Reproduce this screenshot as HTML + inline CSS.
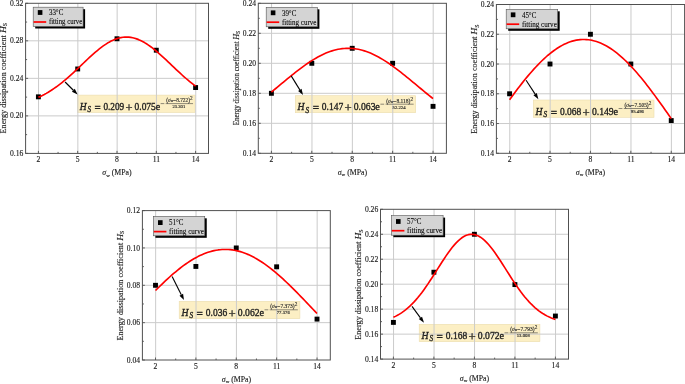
<!DOCTYPE html>
<html><head><meta charset="utf-8"><style>
html,body{margin:0;padding:0;background:#fff;width:685px;height:384px;overflow:hidden}
svg{display:block;will-change:transform}
svg text{stroke:#222;stroke-width:0.14px}
</style></head><body>
<svg width="685" height="384" viewBox="0 0 685 384">
<rect width="685" height="384" fill="#fff"/>
<rect x="77.5" y="95.1" width="117.6" height="17.4" fill="#fcefc4" stroke="#ecdcae" stroke-width="0.6"/>
<path d="M38.55 3.3V153.4M77.85 3.3V153.4M117.15 3.3V153.4M156.45 3.3V153.4M195.75 3.3V153.4M25.6 115.88H208.5M25.6 78.35H208.5M25.6 40.82H208.5" stroke="#cbcbcb" stroke-width="1.0" fill="none"/>
<path d="M38.4 153.4v-2.5M77.7 153.4v-2.5M117 153.4v-2.5M156.3 153.4v-2.5M195.6 153.4v-2.5M58.05 153.4v-1.5M97.35 153.4v-1.5M136.65 153.4v-1.5M175.95 153.4v-1.5M25.6 153.4h2.5M25.6 134.64h1.5M25.6 115.88h2.5M25.6 97.11h1.5M25.6 78.35h2.5M25.6 59.59h1.5M25.6 40.82h2.5M25.6 22.06h1.5M25.6 3.3h2.5" stroke="#505050" stroke-width="0.9" fill="none"/>
<text x="79.64" y="109.7" font-family="'Liberation Serif', serif" font-size="10.4" fill="#1a1a1a" style="stroke-width:0.34px" font-style="italic" textLength="6.82" lengthAdjust="spacingAndGlyphs">H</text>
<text x="87.44" y="112.1" font-family="'Liberation Serif', serif" font-size="7.2" fill="#1a1a1a" style="stroke-width:0.34px" font-style="italic" textLength="3.51" lengthAdjust="spacingAndGlyphs">S</text>
<text x="94.45" y="110.8" font-family="'Liberation Serif', serif" font-size="10.4" fill="#1a1a1a" style="stroke-width:0.34px" textLength="6.24" lengthAdjust="spacingAndGlyphs">=</text>
<text x="103.42" y="109.7" font-family="'Liberation Serif', serif" font-size="10.4" fill="#1a1a1a" style="stroke-width:0.34px" textLength="20.85" lengthAdjust="spacingAndGlyphs">0.209</text>
<text x="125.44" y="111.6" font-family="'Liberation Serif', serif" font-size="13" fill="#1a1a1a" style="stroke-width:0.34px" textLength="7.02" lengthAdjust="spacingAndGlyphs">+</text>
<text x="134.59" y="109.7" font-family="'Liberation Serif', serif" font-size="10.4" fill="#1a1a1a" style="stroke-width:0.34px" textLength="21.24" lengthAdjust="spacingAndGlyphs">0.075</text>
<text x="155.64" y="109.7" font-family="'Liberation Serif', serif" font-size="10.4" fill="#1a1a1a" style="stroke-width:0.34px" textLength="4.48" lengthAdjust="spacingAndGlyphs">e</text>
<path d="M160.61 103.6H164.31M165.68 103.6H193.05" stroke="#333" stroke-width="0.55"/>
<text x="166.26" y="102" font-family="'Liberation Serif', serif" font-size="5.2" fill="#333" textLength="23.68" lengthAdjust="spacingAndGlyphs">(<tspan font-style="italic">σ</tspan><tspan font-size="3.4">w</tspan>−8.722)</text>
<text x="190.03" y="99.9" font-family="'Liberation Serif', serif" font-size="5.2" fill="#333">2</text>
<text x="172.5" y="108" font-family="'Liberation Serif', serif" font-size="4.4" fill="#333" textLength="12.76" lengthAdjust="spacingAndGlyphs">23.301</text>
<rect x="35.95" y="94.38" width="4.9" height="4.9" fill="#000"/>
<rect x="75.25" y="66.52" width="4.9" height="4.9" fill="#000"/>
<rect x="114.55" y="36.31" width="4.9" height="4.9" fill="#000"/>
<rect x="153.85" y="47.76" width="4.9" height="4.9" fill="#000"/>
<rect x="193.15" y="85.09" width="4.9" height="4.9" fill="#000"/>
<polyline points="38.4,97.31 40.36,96.41 42.33,95.45 44.3,94.43 46.26,93.35 48.22,92.21 50.19,91 52.15,89.74 54.12,88.42 56.09,87.04 58.05,85.6 60.02,84.11 61.98,82.56 63.95,80.95 65.91,79.3 67.88,77.61 69.84,75.87 71.8,74.1 73.77,72.29 75.73,70.46 77.7,68.61 79.66,66.74 81.63,64.87 83.59,62.99 85.56,61.12 87.53,59.27 89.49,57.44 91.45,55.64 93.42,53.88 95.38,52.17 97.35,50.51 99.31,48.91 101.28,47.39 103.25,45.94 105.21,44.58 107.17,43.32 109.14,42.16 111.1,41.1 113.07,40.16 115.03,39.33 117,38.63 118.97,38.05 120.93,37.61 122.89,37.3 124.86,37.12 126.82,37.07 128.79,37.17 130.75,37.4 132.72,37.76 134.69,38.25 136.65,38.88 138.62,39.63 140.58,40.5 142.54,41.48 144.51,42.58 146.47,43.78 148.44,45.08 150.41,46.47 152.37,47.95 154.33,49.5 156.3,51.12 158.26,52.8 160.23,54.53 162.19,56.31 164.16,58.12 166.12,59.96 168.09,61.82 170.06,63.69 172.02,65.57 173.98,67.44 175.95,69.3 177.92,71.15 179.88,72.97 181.84,74.76 183.81,76.52 185.78,78.25 187.74,79.92 189.71,81.56 191.67,83.14 193.63,84.67 195.6,86.15" fill="none" stroke="#ff0000" stroke-width="1.65" stroke-linejoin="round"/>
<path d="M65.1 82L73.36 90.26" stroke="#000" stroke-width="1.1"/>
<path d="M77.6 94.5L71.94 91.67L74.77 88.84Z" fill="#000"/>
<rect x="35.2" y="9.2" width="49.9" height="19.3" fill="#000"/>
<rect x="33.2" y="7.2" width="49.9" height="19.3" fill="#d4d4d4" stroke="#555" stroke-width="0.6"/>
<rect x="37.8" y="10.1" width="4.6" height="4.8" fill="#000"/>
<path d="M33.6 22h12.6" stroke="#ff0000" stroke-width="1.7"/>
<text x="48.9" y="15.2" font-family="'Liberation Serif', serif" font-size="8.6" fill="#000" style="stroke-width:0.1px" textLength="14.4" lengthAdjust="spacingAndGlyphs">33°C</text>
<text x="48.9" y="24.3" font-family="'Liberation Serif', serif" font-size="8.6" fill="#000" style="stroke-width:0.1px" textLength="33.3" lengthAdjust="spacingAndGlyphs">fitting curve</text>
<rect x="25.6" y="3.3" width="182.9" height="150.1" fill="none" stroke="#505050" stroke-width="1.0"/>
<text x="38.4" y="162.4" font-family="'Liberation Serif', serif" font-size="7.6" fill="#222" text-anchor="middle">2</text>
<text x="77.7" y="162.4" font-family="'Liberation Serif', serif" font-size="7.6" fill="#222" text-anchor="middle">5</text>
<text x="117" y="162.4" font-family="'Liberation Serif', serif" font-size="7.6" fill="#222" text-anchor="middle">8</text>
<text x="156.3" y="162.4" font-family="'Liberation Serif', serif" font-size="7.6" fill="#222" text-anchor="middle">11</text>
<text x="195.6" y="162.4" font-family="'Liberation Serif', serif" font-size="7.6" fill="#222" text-anchor="middle">14</text>
<text x="23.3" y="156" font-family="'Liberation Serif', serif" font-size="7.6" fill="#222" text-anchor="end">0.16</text>
<text x="23.3" y="118.47" font-family="'Liberation Serif', serif" font-size="7.6" fill="#222" text-anchor="end">0.20</text>
<text x="23.3" y="80.95" font-family="'Liberation Serif', serif" font-size="7.6" fill="#222" text-anchor="end">0.24</text>
<text x="23.3" y="43.42" font-family="'Liberation Serif', serif" font-size="7.6" fill="#222" text-anchor="end">0.28</text>
<text x="23.3" y="5.9" font-family="'Liberation Serif', serif" font-size="7.6" fill="#222" text-anchor="end">0.32</text>
<text x="117" y="175" font-family="'Liberation Serif', serif" font-size="7.8" fill="#222" text-anchor="middle"><tspan font-style="italic">σ</tspan><tspan font-size="5" dy="1.5">w</tspan><tspan dy="-1.5"> (MPa)</tspan></text>
<text transform="translate(5.8 133.4) rotate(-90)" font-family="'Liberation Serif', serif" font-size="8.0" fill="#222" x="0" y="0" textLength="110.4" lengthAdjust="spacingAndGlyphs">Energy dissipation coefficient <tspan font-style="italic" font-size="9.2">H</tspan><tspan font-size="5.76" dy="1.36">S</tspan></text>
<rect x="295.3" y="95.7" width="120.4" height="17" fill="#fcefc4" stroke="#ecdcae" stroke-width="0.6"/>
<path d="M271.55 3.3V153.3M311.96 3.3V153.3M352.37 3.3V153.3M392.78 3.3V153.3M433.19 3.3V153.3M258.3 123.3H446.4M258.3 93.3H446.4M258.3 63.3H446.4M258.3 33.3H446.4" stroke="#cbcbcb" stroke-width="1.0" fill="none"/>
<path d="M271.4 153.3v-2.5M311.81 153.3v-2.5M352.22 153.3v-2.5M392.63 153.3v-2.5M433.04 153.3v-2.5M291.6 153.3v-1.5M332.01 153.3v-1.5M372.42 153.3v-1.5M412.83 153.3v-1.5M258.3 153.3h2.5M258.3 138.3h1.5M258.3 123.3h2.5M258.3 108.3h1.5M258.3 93.3h2.5M258.3 78.3h1.5M258.3 63.3h2.5M258.3 48.3h1.5M258.3 33.3h2.5M258.3 18.3h1.5M258.3 3.3h2.5" stroke="#505050" stroke-width="0.9" fill="none"/>
<text x="297.49" y="110.3" font-family="'Liberation Serif', serif" font-size="10.4" fill="#1a1a1a" style="stroke-width:0.34px" font-style="italic" textLength="6.98" lengthAdjust="spacingAndGlyphs">H</text>
<text x="305.47" y="112.7" font-family="'Liberation Serif', serif" font-size="7.2" fill="#1a1a1a" style="stroke-width:0.34px" font-style="italic" textLength="3.59" lengthAdjust="spacingAndGlyphs">S</text>
<text x="312.66" y="111.4" font-family="'Liberation Serif', serif" font-size="10.4" fill="#1a1a1a" style="stroke-width:0.34px" textLength="6.38" lengthAdjust="spacingAndGlyphs">=</text>
<text x="321.83" y="110.3" font-family="'Liberation Serif', serif" font-size="10.4" fill="#1a1a1a" style="stroke-width:0.34px" textLength="21.35" lengthAdjust="spacingAndGlyphs">0.147</text>
<text x="344.38" y="112.2" font-family="'Liberation Serif', serif" font-size="13" fill="#1a1a1a" style="stroke-width:0.34px" textLength="7.18" lengthAdjust="spacingAndGlyphs">+</text>
<text x="353.75" y="110.3" font-family="'Liberation Serif', serif" font-size="10.4" fill="#1a1a1a" style="stroke-width:0.34px" textLength="21.75" lengthAdjust="spacingAndGlyphs">0.063</text>
<text x="375.3" y="110.3" font-family="'Liberation Serif', serif" font-size="10.4" fill="#1a1a1a" style="stroke-width:0.34px" textLength="4.59" lengthAdjust="spacingAndGlyphs">e</text>
<path d="M380.39 104.2H384.18M385.58 104.2H413.61" stroke="#333" stroke-width="0.55"/>
<text x="386.17" y="102.6" font-family="'Liberation Serif', serif" font-size="5.2" fill="#333" textLength="24.24" lengthAdjust="spacingAndGlyphs">(<tspan font-style="italic">σ</tspan><tspan font-size="3.4">w</tspan>−8.118)</text>
<text x="410.51" y="100.5" font-family="'Liberation Serif', serif" font-size="5.2" fill="#333">2</text>
<text x="392.56" y="108.6" font-family="'Liberation Serif', serif" font-size="4.4" fill="#333" textLength="13.07" lengthAdjust="spacingAndGlyphs">52.224</text>
<rect x="268.95" y="90.85" width="4.9" height="4.9" fill="#000"/>
<rect x="309.36" y="60.85" width="4.9" height="4.9" fill="#000"/>
<rect x="349.77" y="45.85" width="4.9" height="4.9" fill="#000"/>
<rect x="390.18" y="60.85" width="4.9" height="4.9" fill="#000"/>
<rect x="430.59" y="103.9" width="4.9" height="4.9" fill="#000"/>
<polyline points="271.4,92.09 273.42,90.42 275.44,88.75 277.46,87.07 279.48,85.38 281.5,83.7 283.52,82.02 285.54,80.35 287.56,78.69 289.58,77.03 291.6,75.4 293.63,73.78 295.65,72.19 297.67,70.62 299.69,69.08 301.71,67.57 303.73,66.09 305.75,64.66 307.77,63.27 309.79,61.92 311.81,60.62 313.83,59.37 315.85,58.17 317.87,57.03 319.89,55.96 321.91,54.94 323.93,53.99 325.95,53.1 327.97,52.29 329.99,51.54 332.01,50.87 334.04,50.27 336.06,49.76 338.08,49.31 340.1,48.95 342.12,48.67 344.14,48.46 346.16,48.34 348.18,48.3 350.2,48.34 352.22,48.46 354.24,48.67 356.26,48.95 358.28,49.31 360.3,49.76 362.32,50.27 364.34,50.87 366.36,51.54 368.38,52.29 370.4,53.1 372.42,53.99 374.45,54.94 376.47,55.96 378.49,57.03 380.51,58.17 382.53,59.37 384.55,60.62 386.57,61.92 388.59,63.27 390.61,64.66 392.63,66.09 394.65,67.57 396.67,69.08 398.69,70.62 400.71,72.19 402.73,73.78 404.75,75.4 406.77,77.03 408.79,78.69 410.81,80.35 412.83,82.02 414.86,83.7 416.88,85.38 418.9,87.07 420.92,88.75 422.94,90.42 424.96,92.09 426.98,93.74 429,95.38 431.02,97.01 433.04,98.62" fill="none" stroke="#ff0000" stroke-width="1.65" stroke-linejoin="round"/>
<path d="M291.2 75.9L299.85 89.9" stroke="#000" stroke-width="1.1"/>
<path d="M303 95L298.14 90.95L301.55 88.84Z" fill="#000"/>
<rect x="268.2" y="9.3" width="51.2" height="19.5" fill="#000"/>
<rect x="266.2" y="7.3" width="51.2" height="19.5" fill="#d4d4d4" stroke="#555" stroke-width="0.6"/>
<rect x="270.8" y="10.4" width="4.6" height="4.8" fill="#000"/>
<path d="M266.6 22.2h12.6" stroke="#ff0000" stroke-width="1.7"/>
<text x="281.9" y="15.5" font-family="'Liberation Serif', serif" font-size="8.6" fill="#000" style="stroke-width:0.1px" textLength="14.4" lengthAdjust="spacingAndGlyphs">39°C</text>
<text x="281.9" y="24.9" font-family="'Liberation Serif', serif" font-size="8.6" fill="#000" style="stroke-width:0.1px" textLength="34.6" lengthAdjust="spacingAndGlyphs">fitting curve</text>
<rect x="258.3" y="3.3" width="188.1" height="150" fill="none" stroke="#505050" stroke-width="1.0"/>
<text x="271.4" y="162.3" font-family="'Liberation Serif', serif" font-size="7.6" fill="#222" text-anchor="middle">2</text>
<text x="311.81" y="162.3" font-family="'Liberation Serif', serif" font-size="7.6" fill="#222" text-anchor="middle">5</text>
<text x="352.22" y="162.3" font-family="'Liberation Serif', serif" font-size="7.6" fill="#222" text-anchor="middle">8</text>
<text x="392.63" y="162.3" font-family="'Liberation Serif', serif" font-size="7.6" fill="#222" text-anchor="middle">11</text>
<text x="433.04" y="162.3" font-family="'Liberation Serif', serif" font-size="7.6" fill="#222" text-anchor="middle">14</text>
<text x="256" y="155.9" font-family="'Liberation Serif', serif" font-size="7.6" fill="#222" text-anchor="end">0.14</text>
<text x="256" y="125.9" font-family="'Liberation Serif', serif" font-size="7.6" fill="#222" text-anchor="end">0.16</text>
<text x="256" y="95.9" font-family="'Liberation Serif', serif" font-size="7.6" fill="#222" text-anchor="end">0.18</text>
<text x="256" y="65.9" font-family="'Liberation Serif', serif" font-size="7.6" fill="#222" text-anchor="end">0.20</text>
<text x="256" y="35.9" font-family="'Liberation Serif', serif" font-size="7.6" fill="#222" text-anchor="end">0.22</text>
<text x="256" y="5.9" font-family="'Liberation Serif', serif" font-size="7.6" fill="#222" text-anchor="end">0.24</text>
<text x="352.4" y="174.9" font-family="'Liberation Serif', serif" font-size="7.8" fill="#222" text-anchor="middle"><tspan font-style="italic">σ</tspan><tspan font-size="5" dy="1.5">w</tspan><tspan dy="-1.5"> (MPa)</tspan></text>
<text transform="translate(239 125.3) rotate(-90)" font-family="'Liberation Serif', serif" font-size="7.6" fill="#222" x="0" y="0" textLength="94.3" lengthAdjust="spacingAndGlyphs">Energy dissipation coefficient <tspan font-style="italic" font-size="8.74">H</tspan><tspan font-size="5.47" dy="1.29">S</tspan></text>
<rect x="533.3" y="100" width="120.7" height="17.3" fill="#fcefc4" stroke="#ecdcae" stroke-width="0.6"/>
<path d="M509.75 4.5V153.3M550.16 4.5V153.3M590.57 4.5V153.3M630.98 4.5V153.3M671.39 4.5V153.3M496.4 123.54H684.6M496.4 93.78H684.6M496.4 64.02H684.6M496.4 34.26H684.6" stroke="#cbcbcb" stroke-width="1.0" fill="none"/>
<path d="M509.6 153.3v-2.5M550.01 153.3v-2.5M590.42 153.3v-2.5M630.83 153.3v-2.5M671.24 153.3v-2.5M529.81 153.3v-1.5M570.22 153.3v-1.5M610.62 153.3v-1.5M651.04 153.3v-1.5M496.4 153.3h2.5M496.4 138.42h1.5M496.4 123.54h2.5M496.4 108.66h1.5M496.4 93.78h2.5M496.4 78.9h1.5M496.4 64.02h2.5M496.4 49.14h1.5M496.4 34.26h2.5M496.4 19.38h1.5M496.4 4.5h2.5" stroke="#505050" stroke-width="0.9" fill="none"/>
<text x="535.5" y="114.6" font-family="'Liberation Serif', serif" font-size="10.4" fill="#1a1a1a" style="stroke-width:0.34px" font-style="italic" textLength="7" lengthAdjust="spacingAndGlyphs">H</text>
<text x="543.5" y="117" font-family="'Liberation Serif', serif" font-size="7.2" fill="#1a1a1a" style="stroke-width:0.34px" font-style="italic" textLength="3.6" lengthAdjust="spacingAndGlyphs">S</text>
<text x="550.7" y="115.7" font-family="'Liberation Serif', serif" font-size="10.4" fill="#1a1a1a" style="stroke-width:0.34px" textLength="6.4" lengthAdjust="spacingAndGlyphs">=</text>
<text x="559.9" y="114.6" font-family="'Liberation Serif', serif" font-size="10.4" fill="#1a1a1a" style="stroke-width:0.34px" textLength="21.4" lengthAdjust="spacingAndGlyphs">0.068</text>
<text x="582.5" y="116.5" font-family="'Liberation Serif', serif" font-size="13" fill="#1a1a1a" style="stroke-width:0.34px" textLength="7.2" lengthAdjust="spacingAndGlyphs">+</text>
<text x="591.9" y="114.6" font-family="'Liberation Serif', serif" font-size="10.4" fill="#1a1a1a" style="stroke-width:0.34px" textLength="21.8" lengthAdjust="spacingAndGlyphs">0.149</text>
<text x="613.5" y="114.6" font-family="'Liberation Serif', serif" font-size="10.4" fill="#1a1a1a" style="stroke-width:0.34px" textLength="4.6" lengthAdjust="spacingAndGlyphs">e</text>
<path d="M618.6 108.5H622.4M623.8 108.5H651.9" stroke="#333" stroke-width="0.55"/>
<text x="624.4" y="106.9" font-family="'Liberation Serif', serif" font-size="5.2" fill="#333" textLength="24.3" lengthAdjust="spacingAndGlyphs">(<tspan font-style="italic">σ</tspan><tspan font-size="3.4">w</tspan>−7.505)</text>
<text x="648.8" y="104.8" font-family="'Liberation Serif', serif" font-size="5.2" fill="#333">2</text>
<text x="630.8" y="112.9" font-family="'Liberation Serif', serif" font-size="4.4" fill="#333" textLength="13.1" lengthAdjust="spacingAndGlyphs">95.496</text>
<rect x="507.15" y="91.33" width="4.9" height="4.9" fill="#000"/>
<rect x="547.56" y="61.57" width="4.9" height="4.9" fill="#000"/>
<rect x="587.97" y="31.81" width="4.9" height="4.9" fill="#000"/>
<rect x="628.38" y="61.57" width="4.9" height="4.9" fill="#000"/>
<rect x="668.79" y="118.11" width="4.9" height="4.9" fill="#000"/>
<polyline points="509.6,99.76 511.62,96.98 513.64,94.23 515.66,91.52 517.68,88.84 519.7,86.21 521.72,83.62 523.74,81.07 525.76,78.58 527.78,76.14 529.81,73.75 531.83,71.42 533.85,69.15 535.87,66.95 537.89,64.82 539.91,62.75 541.93,60.76 543.95,58.84 545.97,57 547.99,55.24 550.01,53.57 552.03,51.98 554.05,50.47 556.07,49.06 558.09,47.74 560.11,46.5 562.13,45.37 564.15,44.33 566.17,43.39 568.19,42.54 570.22,41.8 572.24,41.16 574.26,40.62 576.28,40.18 578.3,39.85 580.32,39.62 582.34,39.49 584.36,39.47 586.38,39.56 588.4,39.74 590.42,40.04 592.44,40.43 594.46,40.93 596.48,41.53 598.5,42.23 600.52,43.04 602.54,43.94 604.56,44.94 606.58,46.04 608.6,47.23 610.62,48.52 612.65,49.9 614.67,51.37 616.69,52.92 618.71,54.56 620.73,56.29 622.75,58.1 624.77,59.98 626.79,61.95 628.81,63.98 630.83,66.09 632.85,68.26 634.87,70.51 636.89,72.81 638.91,75.17 640.93,77.59 642.95,80.07 644.97,82.59 646.99,85.17 649.01,87.79 651.04,90.45 653.06,93.14 655.08,95.88 657.1,98.64 659.12,101.44 661.14,104.26 663.16,107.1 665.18,109.96 667.2,112.84 669.22,115.73 671.24,118.64" fill="none" stroke="#ff0000" stroke-width="1.65" stroke-linejoin="round"/>
<path d="M526.1 80.3L535.13 94.17" stroke="#000" stroke-width="1.1"/>
<path d="M538.4 99.2L533.45 95.26L536.8 93.08Z" fill="#000"/>
<rect x="508.2" y="11.3" width="51.5" height="19.5" fill="#000"/>
<rect x="506.2" y="9.3" width="51.5" height="19.5" fill="#d4d4d4" stroke="#555" stroke-width="0.6"/>
<rect x="510.8" y="12.4" width="4.6" height="4.8" fill="#000"/>
<path d="M506.6 24.2h12.6" stroke="#ff0000" stroke-width="1.7"/>
<text x="521.9" y="17.5" font-family="'Liberation Serif', serif" font-size="8.6" fill="#000" style="stroke-width:0.1px" textLength="14.4" lengthAdjust="spacingAndGlyphs">45°C</text>
<text x="521.9" y="26.9" font-family="'Liberation Serif', serif" font-size="8.6" fill="#000" style="stroke-width:0.1px" textLength="34.9" lengthAdjust="spacingAndGlyphs">fitting curve</text>
<rect x="496.4" y="4.5" width="188.2" height="148.8" fill="none" stroke="#505050" stroke-width="1.0"/>
<text x="509.6" y="162.3" font-family="'Liberation Serif', serif" font-size="7.6" fill="#222" text-anchor="middle">2</text>
<text x="550.01" y="162.3" font-family="'Liberation Serif', serif" font-size="7.6" fill="#222" text-anchor="middle">5</text>
<text x="590.42" y="162.3" font-family="'Liberation Serif', serif" font-size="7.6" fill="#222" text-anchor="middle">8</text>
<text x="630.83" y="162.3" font-family="'Liberation Serif', serif" font-size="7.6" fill="#222" text-anchor="middle">11</text>
<text x="671.24" y="162.3" font-family="'Liberation Serif', serif" font-size="7.6" fill="#222" text-anchor="middle">14</text>
<text x="494.1" y="155.9" font-family="'Liberation Serif', serif" font-size="7.6" fill="#222" text-anchor="end">0.14</text>
<text x="494.1" y="126.14" font-family="'Liberation Serif', serif" font-size="7.6" fill="#222" text-anchor="end">0.16</text>
<text x="494.1" y="96.38" font-family="'Liberation Serif', serif" font-size="7.6" fill="#222" text-anchor="end">0.18</text>
<text x="494.1" y="66.62" font-family="'Liberation Serif', serif" font-size="7.6" fill="#222" text-anchor="end">0.20</text>
<text x="494.1" y="36.86" font-family="'Liberation Serif', serif" font-size="7.6" fill="#222" text-anchor="end">0.22</text>
<text x="494.1" y="7.1" font-family="'Liberation Serif', serif" font-size="7.6" fill="#222" text-anchor="end">0.24</text>
<text x="590.5" y="174.9" font-family="'Liberation Serif', serif" font-size="7.8" fill="#222" text-anchor="middle"><tspan font-style="italic">σ</tspan><tspan font-size="5" dy="1.5">w</tspan><tspan dy="-1.5"> (MPa)</tspan></text>
<text transform="translate(477.4 133.7) rotate(-90)" font-family="'Liberation Serif', serif" font-size="8.0" fill="#222" x="0" y="0" textLength="109.3" lengthAdjust="spacingAndGlyphs">Energy dissipation coefficient <tspan font-style="italic" font-size="9.2">H</tspan><tspan font-size="5.76" dy="1.36">S</tspan></text>
<rect x="179.2" y="301.3" width="120.7" height="17.4" fill="#fcefc4" stroke="#ecdcae" stroke-width="0.6"/>
<path d="M155.65 210.6V360M196.03 210.6V360M236.41 210.6V360M276.79 210.6V360M317.17 210.6V360M142.4 322.65H330.3M142.4 285.3H330.3M142.4 247.95H330.3" stroke="#cbcbcb" stroke-width="1.0" fill="none"/>
<path d="M155.5 360v-2.5M195.88 360v-2.5M236.26 360v-2.5M276.64 360v-2.5M317.02 360v-2.5M175.69 360v-1.5M216.07 360v-1.5M256.45 360v-1.5M296.83 360v-1.5M142.4 360h2.5M142.4 341.32h1.5M142.4 322.65h2.5M142.4 303.97h1.5M142.4 285.3h2.5M142.4 266.62h1.5M142.4 247.95h2.5M142.4 229.27h1.5M142.4 210.6h2.5" stroke="#505050" stroke-width="0.9" fill="none"/>
<text x="181.4" y="315.9" font-family="'Liberation Serif', serif" font-size="10.4" fill="#1a1a1a" style="stroke-width:0.34px" font-style="italic" textLength="7" lengthAdjust="spacingAndGlyphs">H</text>
<text x="189.4" y="318.3" font-family="'Liberation Serif', serif" font-size="7.2" fill="#1a1a1a" style="stroke-width:0.34px" font-style="italic" textLength="3.6" lengthAdjust="spacingAndGlyphs">S</text>
<text x="196.6" y="317" font-family="'Liberation Serif', serif" font-size="10.4" fill="#1a1a1a" style="stroke-width:0.34px" textLength="6.4" lengthAdjust="spacingAndGlyphs">=</text>
<text x="205.8" y="315.9" font-family="'Liberation Serif', serif" font-size="10.4" fill="#1a1a1a" style="stroke-width:0.34px" textLength="21.4" lengthAdjust="spacingAndGlyphs">0.036</text>
<text x="228.4" y="317.8" font-family="'Liberation Serif', serif" font-size="13" fill="#1a1a1a" style="stroke-width:0.34px" textLength="7.2" lengthAdjust="spacingAndGlyphs">+</text>
<text x="237.8" y="315.9" font-family="'Liberation Serif', serif" font-size="10.4" fill="#1a1a1a" style="stroke-width:0.34px" textLength="21.8" lengthAdjust="spacingAndGlyphs">0.062</text>
<text x="259.4" y="315.9" font-family="'Liberation Serif', serif" font-size="10.4" fill="#1a1a1a" style="stroke-width:0.34px" textLength="4.6" lengthAdjust="spacingAndGlyphs">e</text>
<path d="M264.5 309.8H268.3M269.7 309.8H297.8" stroke="#333" stroke-width="0.55"/>
<text x="270.3" y="308.2" font-family="'Liberation Serif', serif" font-size="5.2" fill="#333" textLength="24.3" lengthAdjust="spacingAndGlyphs">(<tspan font-style="italic">σ</tspan><tspan font-size="3.4">w</tspan>−7.373)</text>
<text x="294.7" y="306.1" font-family="'Liberation Serif', serif" font-size="5.2" fill="#333">2</text>
<text x="276.7" y="314.2" font-family="'Liberation Serif', serif" font-size="4.4" fill="#333" textLength="13.1" lengthAdjust="spacingAndGlyphs">77.376</text>
<rect x="153.05" y="282.85" width="4.9" height="4.9" fill="#000"/>
<rect x="193.43" y="263.99" width="4.9" height="4.9" fill="#000"/>
<rect x="233.81" y="245.5" width="4.9" height="4.9" fill="#000"/>
<rect x="274.19" y="264.36" width="4.9" height="4.9" fill="#000"/>
<rect x="314.57" y="316.65" width="4.9" height="4.9" fill="#000"/>
<polyline points="155.5,290.53 157.52,288.51 159.54,286.52 161.56,284.55 163.58,282.62 165.59,280.71 167.61,278.84 169.63,277.01 171.65,275.22 173.67,273.47 175.69,271.77 177.71,270.11 179.73,268.5 181.75,266.94 183.77,265.44 185.78,264 187.8,262.61 189.82,261.28 191.84,260.01 193.86,258.81 195.88,257.68 197.9,256.61 199.92,255.61 201.94,254.68 203.96,253.83 205.97,253.04 207.99,252.33 210.01,251.7 212.03,251.14 214.05,250.67 216.07,250.27 218.09,249.94 220.11,249.7 222.13,249.54 224.15,249.46 226.17,249.45 228.18,249.53 230.2,249.69 232.22,249.92 234.24,250.24 236.26,250.64 238.28,251.11 240.3,251.66 242.32,252.29 244.34,252.99 246.36,253.77 248.37,254.62 250.39,255.55 252.41,256.54 254.43,257.6 256.45,258.74 258.47,259.93 260.49,261.19 262.51,262.52 264.53,263.9 266.55,265.34 268.56,266.84 270.58,268.4 272.6,270 274.62,271.65 276.64,273.36 278.66,275.1 280.68,276.89 282.7,278.72 284.72,280.59 286.74,282.49 288.75,284.42 290.77,286.39 292.79,288.38 294.81,290.4 296.83,292.44 298.85,294.5 300.87,296.57 302.89,298.67 304.91,300.77 306.93,302.89 308.94,305.01 310.96,307.14 312.98,309.27 315,311.41 317.02,313.54" fill="none" stroke="#ff0000" stroke-width="1.65" stroke-linejoin="round"/>
<path d="M172.1 276.6L181.29 294.75" stroke="#000" stroke-width="1.1"/>
<path d="M184 300.1L179.51 295.65L183.07 293.84Z" fill="#000"/>
<rect x="155.4" y="218.3" width="51.35" height="19.5" fill="#000"/>
<rect x="153.4" y="216.3" width="51.35" height="19.5" fill="#d4d4d4" stroke="#555" stroke-width="0.6"/>
<rect x="158" y="220.2" width="4.6" height="4.8" fill="#000"/>
<path d="M153.8 231.6h12.6" stroke="#ff0000" stroke-width="1.7"/>
<text x="169.1" y="225.3" font-family="'Liberation Serif', serif" font-size="8.6" fill="#000" style="stroke-width:0.1px" textLength="14.4" lengthAdjust="spacingAndGlyphs">51°C</text>
<text x="169.1" y="234.2" font-family="'Liberation Serif', serif" font-size="8.6" fill="#000" style="stroke-width:0.1px" textLength="34.75" lengthAdjust="spacingAndGlyphs">fitting curve</text>
<rect x="142.4" y="210.6" width="187.9" height="149.4" fill="none" stroke="#505050" stroke-width="1.0"/>
<text x="155.5" y="369" font-family="'Liberation Serif', serif" font-size="7.6" fill="#222" text-anchor="middle">2</text>
<text x="195.88" y="369" font-family="'Liberation Serif', serif" font-size="7.6" fill="#222" text-anchor="middle">5</text>
<text x="236.26" y="369" font-family="'Liberation Serif', serif" font-size="7.6" fill="#222" text-anchor="middle">8</text>
<text x="276.64" y="369" font-family="'Liberation Serif', serif" font-size="7.6" fill="#222" text-anchor="middle">11</text>
<text x="317.02" y="369" font-family="'Liberation Serif', serif" font-size="7.6" fill="#222" text-anchor="middle">14</text>
<text x="140.1" y="362.6" font-family="'Liberation Serif', serif" font-size="7.6" fill="#222" text-anchor="end">0.04</text>
<text x="140.1" y="325.25" font-family="'Liberation Serif', serif" font-size="7.6" fill="#222" text-anchor="end">0.06</text>
<text x="140.1" y="287.9" font-family="'Liberation Serif', serif" font-size="7.6" fill="#222" text-anchor="end">0.08</text>
<text x="140.1" y="250.55" font-family="'Liberation Serif', serif" font-size="7.6" fill="#222" text-anchor="end">0.10</text>
<text x="140.1" y="213.2" font-family="'Liberation Serif', serif" font-size="7.6" fill="#222" text-anchor="end">0.12</text>
<text x="236.5" y="381.6" font-family="'Liberation Serif', serif" font-size="7.8" fill="#222" text-anchor="middle"><tspan font-style="italic">σ</tspan><tspan font-size="5" dy="1.5">w</tspan><tspan dy="-1.5"> (MPa)</tspan></text>
<text transform="translate(122.8 340.6) rotate(-90)" font-family="'Liberation Serif', serif" font-size="8.0" fill="#222" x="0" y="0" textLength="109.9" lengthAdjust="spacingAndGlyphs">Energy dissipation coefficient <tspan font-style="italic" font-size="9.2">H</tspan><tspan font-size="5.76" dy="1.36">S</tspan></text>
<rect x="419.2" y="324.3" width="120.7" height="17.4" fill="#fcefc4" stroke="#ecdcae" stroke-width="0.6"/>
<path d="M393.55 209.3V359.1M434.05 209.3V359.1M474.55 209.3V359.1M515.05 209.3V359.1M555.55 209.3V359.1M380.5 334.13H568.5M380.5 309.17H568.5M380.5 284.2H568.5M380.5 259.23H568.5M380.5 234.27H568.5" stroke="#cbcbcb" stroke-width="1.0" fill="none"/>
<path d="M393.4 359.1v-2.5M433.9 359.1v-2.5M474.4 359.1v-2.5M514.9 359.1v-2.5M555.4 359.1v-2.5M413.65 359.1v-1.5M454.15 359.1v-1.5M494.65 359.1v-1.5M535.15 359.1v-1.5M380.5 359.1h2.5M380.5 346.62h1.5M380.5 334.13h2.5M380.5 321.65h1.5M380.5 309.17h2.5M380.5 296.68h1.5M380.5 284.2h2.5M380.5 271.72h1.5M380.5 259.23h2.5M380.5 246.75h1.5M380.5 234.27h2.5M380.5 221.78h1.5M380.5 209.3h2.5" stroke="#505050" stroke-width="0.9" fill="none"/>
<text x="421.4" y="338.9" font-family="'Liberation Serif', serif" font-size="10.4" fill="#1a1a1a" style="stroke-width:0.34px" font-style="italic" textLength="7" lengthAdjust="spacingAndGlyphs">H</text>
<text x="429.4" y="341.3" font-family="'Liberation Serif', serif" font-size="7.2" fill="#1a1a1a" style="stroke-width:0.34px" font-style="italic" textLength="3.6" lengthAdjust="spacingAndGlyphs">S</text>
<text x="436.6" y="340" font-family="'Liberation Serif', serif" font-size="10.4" fill="#1a1a1a" style="stroke-width:0.34px" textLength="6.4" lengthAdjust="spacingAndGlyphs">=</text>
<text x="445.8" y="338.9" font-family="'Liberation Serif', serif" font-size="10.4" fill="#1a1a1a" style="stroke-width:0.34px" textLength="21.4" lengthAdjust="spacingAndGlyphs">0.168</text>
<text x="468.4" y="340.8" font-family="'Liberation Serif', serif" font-size="13" fill="#1a1a1a" style="stroke-width:0.34px" textLength="7.2" lengthAdjust="spacingAndGlyphs">+</text>
<text x="477.8" y="338.9" font-family="'Liberation Serif', serif" font-size="10.4" fill="#1a1a1a" style="stroke-width:0.34px" textLength="21.8" lengthAdjust="spacingAndGlyphs">0.072</text>
<text x="499.4" y="338.9" font-family="'Liberation Serif', serif" font-size="10.4" fill="#1a1a1a" style="stroke-width:0.34px" textLength="4.6" lengthAdjust="spacingAndGlyphs">e</text>
<path d="M504.5 332.8H508.3M509.7 332.8H537.8" stroke="#333" stroke-width="0.55"/>
<text x="510.3" y="331.2" font-family="'Liberation Serif', serif" font-size="5.2" fill="#333" textLength="24.3" lengthAdjust="spacingAndGlyphs">(<tspan font-style="italic">σ</tspan><tspan font-size="3.4">w</tspan>−7.793)</text>
<text x="534.7" y="329.1" font-family="'Liberation Serif', serif" font-size="5.2" fill="#333">2</text>
<text x="516.7" y="337.2" font-family="'Liberation Serif', serif" font-size="4.4" fill="#333" textLength="13.1" lengthAdjust="spacingAndGlyphs">13.008</text>
<rect x="390.95" y="319.95" width="4.9" height="4.9" fill="#000"/>
<rect x="431.45" y="269.77" width="4.9" height="4.9" fill="#000"/>
<rect x="471.95" y="231.82" width="4.9" height="4.9" fill="#000"/>
<rect x="512.45" y="282.12" width="4.9" height="4.9" fill="#000"/>
<rect x="552.95" y="313.58" width="4.9" height="4.9" fill="#000"/>
<polyline points="393.4,317.34 395.42,316.37 397.45,315.31 399.47,314.13 401.5,312.84 403.52,311.42 405.55,309.88 407.57,308.2 409.6,306.39 411.62,304.44 413.65,302.35 415.67,300.13 417.7,297.76 419.72,295.27 421.75,292.65 423.77,289.9 425.8,287.05 427.82,284.1 429.85,281.07 431.88,277.96 433.9,274.8 435.92,271.61 437.95,268.41 439.97,265.21 442,262.05 444.02,258.94 446.05,255.91 448.07,252.99 450.1,250.2 452.12,247.56 454.15,245.11 456.17,242.86 458.2,240.83 460.22,239.05 462.25,237.52 464.27,236.28 466.3,235.33 468.32,234.67 470.35,234.33 472.38,234.29 474.4,234.56 476.42,235.14 478.45,236.03 480.47,237.2 482.5,238.66 484.52,240.38 486.55,242.35 488.57,244.55 490.6,246.96 492.62,249.55 494.65,252.3 496.67,255.2 498.7,258.2 500.72,261.29 502.75,264.45 504.77,267.64 506.8,270.84 508.82,274.04 510.85,277.21 512.88,280.33 514.9,283.38 516.92,286.35 518.95,289.23 520.97,292 523,294.65 525.02,297.18 527.05,299.57 529.08,301.83 531.1,303.95 533.12,305.94 535.15,307.78 537.17,309.49 539.2,311.07 541.22,312.51 543.25,313.83 545.27,315.04 547.3,316.13 549.33,317.11 551.35,318 553.38,318.79 555.4,319.5" fill="none" stroke="#ff0000" stroke-width="1.65" stroke-linejoin="round"/>
<path d="M412 306.4L420.44 317.87" stroke="#000" stroke-width="1.1"/>
<path d="M424 322.7L418.83 319.05L422.05 316.68Z" fill="#000"/>
<rect x="393.4" y="217.6" width="51.7" height="19.6" fill="#000"/>
<rect x="391.4" y="215.6" width="51.7" height="19.6" fill="#d4d4d4" stroke="#555" stroke-width="0.6"/>
<rect x="396" y="219.1" width="4.6" height="4.8" fill="#000"/>
<path d="M391.8 230.7h12.6" stroke="#ff0000" stroke-width="1.7"/>
<text x="407.1" y="224.2" font-family="'Liberation Serif', serif" font-size="8.6" fill="#000" style="stroke-width:0.1px" textLength="14.4" lengthAdjust="spacingAndGlyphs">57°C</text>
<text x="407.1" y="233.3" font-family="'Liberation Serif', serif" font-size="8.6" fill="#000" style="stroke-width:0.1px" textLength="35.1" lengthAdjust="spacingAndGlyphs">fitting curve</text>
<rect x="380.5" y="209.3" width="188" height="149.8" fill="none" stroke="#505050" stroke-width="1.0"/>
<text x="393.4" y="368.1" font-family="'Liberation Serif', serif" font-size="7.6" fill="#222" text-anchor="middle">2</text>
<text x="433.9" y="368.1" font-family="'Liberation Serif', serif" font-size="7.6" fill="#222" text-anchor="middle">5</text>
<text x="474.4" y="368.1" font-family="'Liberation Serif', serif" font-size="7.6" fill="#222" text-anchor="middle">8</text>
<text x="514.9" y="368.1" font-family="'Liberation Serif', serif" font-size="7.6" fill="#222" text-anchor="middle">11</text>
<text x="555.4" y="368.1" font-family="'Liberation Serif', serif" font-size="7.6" fill="#222" text-anchor="middle">14</text>
<text x="378.2" y="361.7" font-family="'Liberation Serif', serif" font-size="7.6" fill="#222" text-anchor="end">0.14</text>
<text x="378.2" y="336.73" font-family="'Liberation Serif', serif" font-size="7.6" fill="#222" text-anchor="end">0.16</text>
<text x="378.2" y="311.77" font-family="'Liberation Serif', serif" font-size="7.6" fill="#222" text-anchor="end">0.18</text>
<text x="378.2" y="286.8" font-family="'Liberation Serif', serif" font-size="7.6" fill="#222" text-anchor="end">0.20</text>
<text x="378.2" y="261.83" font-family="'Liberation Serif', serif" font-size="7.6" fill="#222" text-anchor="end">0.22</text>
<text x="378.2" y="236.87" font-family="'Liberation Serif', serif" font-size="7.6" fill="#222" text-anchor="end">0.24</text>
<text x="378.2" y="211.9" font-family="'Liberation Serif', serif" font-size="7.6" fill="#222" text-anchor="end">0.26</text>
<text x="474.5" y="380.7" font-family="'Liberation Serif', serif" font-size="7.8" fill="#222" text-anchor="middle"><tspan font-style="italic">σ</tspan><tspan font-size="5" dy="1.5">w</tspan><tspan dy="-1.5"> (MPa)</tspan></text>
<text transform="translate(361.3 339.8) rotate(-90)" font-family="'Liberation Serif', serif" font-size="8.0" fill="#222" x="0" y="0" textLength="110.4" lengthAdjust="spacingAndGlyphs">Energy dissipation coefficient <tspan font-style="italic" font-size="9.2">H</tspan><tspan font-size="5.76" dy="1.36">S</tspan></text>
</svg>
</body></html>
